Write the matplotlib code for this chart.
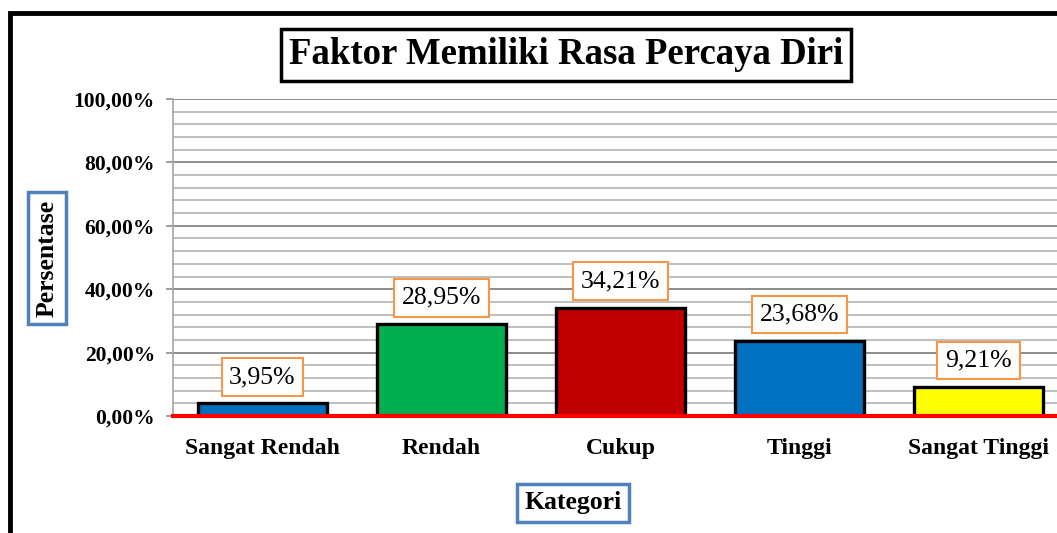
import matplotlib.pyplot as plt
from matplotlib.patches import Rectangle

categories = ["Sangat Rendah", "Rendah", "Cukup", "Tinggi", "Sangat Tinggi"]
values = [3.95, 28.95, 34.21, 23.68, 9.21]
labels = ["3,95%", "28,95%", "34,21%", "23,68%", "9,21%"]
colors = ["#0070C0", "#00B050", "#C00000", "#0070C0", "#FFFF00"]
yticks = [0, 20, 40, 60, 80, 100]
yticklabels = ["0,00%", "20,00%", "40,00%", "60,00%", "80,00%", "100,00%"]

plt.rcParams['font.family'] = ['Liberation Serif', 'DejaVu Serif']

W, H = 1057, 533
fig = plt.figure(figsize=(W / 100, H / 100), dpi=100)

# outer chart frame (cut off at right and bottom)
fig.patches.append(Rectangle((10 / W, -0.1), 1.2, 1 - 13 / H + 0.1, transform=fig.transFigure,
                             fill=False, edgecolor="black", linewidth=3.5, zorder=0))

ax = fig.add_axes([173 / W, 1 - 416 / H, (1068 - 173) / W, (416 - 99) / H])
x = list(range(len(categories)))
ax.bar(x, values, width=0.725, color=colors, edgecolor="black", linewidth=2.4, zorder=3)
ax.set_xlim(-0.5, len(categories) - 0.5)
ax.set_ylim(0, 100)

# minor grid every 4%, major every 20%
for v in range(0, 101, 4):
    if v % 20 == 0:
        ax.axhline(v, color="#8c8c8c", linewidth=1.4, zorder=1)
    else:
        ax.axhline(v, color="#bfbfbf", linewidth=1.4, zorder=1)
ax.axhline(0, color="#FF0000", linewidth=3, zorder=4, clip_on=False)

ax.set_yticks(yticks)
ax.set_yticklabels(yticklabels, fontsize=15.5, fontweight="bold")
ax.set_xticks(x)
ax.set_xticklabels(categories, fontsize=17, fontweight="bold")
ax.tick_params(axis="y", length=5, color="#8c8c8c", width=1.2, pad=8)
ax.tick_params(axis="x", length=0, pad=16)
for s in ["top", "right", "bottom"]:
    ax.spines[s].set_visible(False)
ax.spines["left"].set_color("#a6a6a6")
ax.spines["left"].set_linewidth(1.2)

for xi, v, lab in zip(x, values, labels):
    ax.annotate(lab, (xi, v), xytext=(0, 19), textcoords="offset points",
                ha="center", va="center", fontsize=18.5, zorder=5,
                bbox=dict(boxstyle="square,pad=0.3", facecolor="white",
                          edgecolor="#F79646", linewidth=1.5))

fig.text(566 / W, 1 - 55 / H, "Faktor Memiliki Rasa Percaya Diri", ha="center", va="center",
         fontsize=26.5, fontweight="bold",
         bbox=dict(boxstyle="square,pad=0.22", facecolor="white", edgecolor="black", linewidth=2.5))
fig.text(47 / W, 1 - 258 / H, "Persentase", ha="center", va="center", rotation=90,
         fontsize=18.5, fontweight="bold",
         bbox=dict(boxstyle="square,pad=0.3", facecolor="white", edgecolor="#4F81BD", linewidth=2.5))
fig.text(573 / W, 1 - 503 / H, "Kategori", ha="center", va="center",
         fontsize=18.5, fontweight="bold",
         bbox=dict(boxstyle="square,pad=0.3", facecolor="white", edgecolor="#4F81BD", linewidth=2.5))

fig.savefig("out.png", dpi=100)
